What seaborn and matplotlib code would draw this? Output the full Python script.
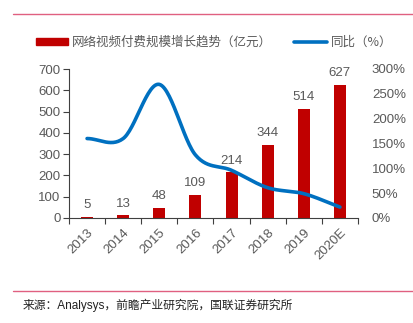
import numpy as np
import pandas as pd
import matplotlib
matplotlib.use("Agg")
import matplotlib.pyplot as plt
import seaborn as sns
from matplotlib.lines import Line2D
from matplotlib.patches import Rectangle

years = ["2013", "2014", "2015", "2016", "2017", "2018", "2019", "2020E"]
scale = [5, 13, 48, 109, 214, 344, 514, 627]
yoy = [160, 160, 269, 127, 96, 61, 49, 22]
left_ticks = [0, 100, 200, 300, 400, 500, 600, 700]
right_ticks = [0, 50, 100, 150, 200, 250, 300]
legend_bar = "网络视频付费规模增长趋势（亿元）"
legend_line = "同比（%）"
source = "来源：Analysys，前瞻产业研究院，国联证券研究所"

sns.set_style("white")
plt.rcParams["font.family"] = ["Liberation Sans", "Noto Sans CJK SC", "DejaVu Sans"]

GRAY = "#595959"
RED = "#C00000"
BLUE = "#0070C0"
PINK = "#E06080"

fig = plt.figure(figsize=(4.14, 3.23), dpi=100)
ax = fig.add_axes([69/414, 1-218/323, (358-69)/414, (218-69)/323])

df = pd.DataFrame({"year": years, "scale": scale})
sns.barplot(data=df, x="year", y="scale", color=RED, width=0.33, ax=ax,
            saturation=1, edgecolor="none")
ax.set_xlim(-0.5, len(years) - 0.5)
ax.set_ylim(0, 700)
ax.set_yticks(left_ticks)
ax.set_xlabel("")
ax.set_ylabel("")
for i, v in enumerate(scale):
    ax.annotate(str(v), (i, v), xytext=(0, 4), textcoords="offset points",
                ha="center", va="bottom", fontsize=9.5, color=GRAY)

ax.set_xticks(np.arange(len(years)))
ax.set_xticklabels(years, rotation=45, ha="right", rotation_mode="anchor",
                   fontsize=9.5, color=GRAY)
ax.tick_params(axis="x", length=0, pad=6)
ax.set_xticks(np.arange(len(years) + 1) - 0.5, minor=True)
ax.tick_params(axis="x", which="minor", length=4, direction="out", color="#404040", width=0.8)
ax.tick_params(axis="y", length=4, direction="out", color="#404040", width=0.8,
               labelsize=9.5, labelcolor=GRAY, pad=2)
ax.yaxis.set_ticks_position("left")
ax.xaxis.set_ticks_position("bottom")
for s in ["top", "right"]:
    ax.spines[s].set_visible(False)
for s in ["left", "bottom"]:
    ax.spines[s].set_color("#404040")
    ax.spines[s].set_linewidth(0.8)

# smoothed line (Catmull-Rom style, like Excel smoothing)
ax2 = ax.twinx()
x = np.arange(len(yoy), dtype=float)
y = np.array(yoy, dtype=float)
m = np.zeros_like(y)
m[1:-1] = (y[2:] - y[:-2]) / 2
m[0] = 0.0
m[-1] = (y[-1] - y[-2])
xs, ys = [], []
for i in range(len(y) - 1):
    t = np.linspace(0, 1, 30)
    h00 = 2*t**3 - 3*t**2 + 1
    h10 = t**3 - 2*t**2 + t
    h01 = -2*t**3 + 3*t**2
    h11 = t**3 - t**2
    xs.extend(x[i] + t)
    ys.extend(h00*y[i] + h10*m[i] + h01*y[i+1] + h11*m[i+1])
sns.lineplot(x=xs, y=ys, ax=ax2, color=BLUE, linewidth=2.6, sort=False, estimator=None)
ax2.set_ylim(0, 300)
ax2.set_yticks(right_ticks)
ax2.set_yticklabels([f"{v}%" for v in right_ticks])
ax2.tick_params(axis="y", length=0, pad=10, labelsize=9.5, labelcolor=GRAY)
for s in ["top", "right", "left", "bottom"]:
    ax2.spines[s].set_visible(False)
ax2.set_xlim(-0.5, len(years) - 0.5)

# legend
handles = [Rectangle((0, 0), 1, 1, color=RED),
           Line2D([0], [0], color=BLUE, linewidth=2.6)]
fig.legend(handles, [legend_bar, legend_line], loc="center", ncol=2,
           bbox_to_anchor=(214/414, 1-42/323), frameon=False,
           handlelength=2.6, handleheight=0.5, handletextpad=0.3, columnspacing=1.8,
           labelcolor=GRAY, prop={"family": ["Noto Sans CJK SC"], "size": 9})

# decorative rules and source
fig.add_artist(Line2D([13/414, 413/414], [1-14/323, 1-14/323], color=PINK, linewidth=1.0))
fig.add_artist(Line2D([13/414, 413/414], [1-291/323, 1-291/323], color=PINK, linewidth=1.0))
fig.text(23/414, 1-305/323, source, fontsize=8.5, color="#222222", va="center", ha="left",
         family=["Liberation Sans", "Noto Sans CJK SC"])

fig.savefig("out.png", dpi=100)
